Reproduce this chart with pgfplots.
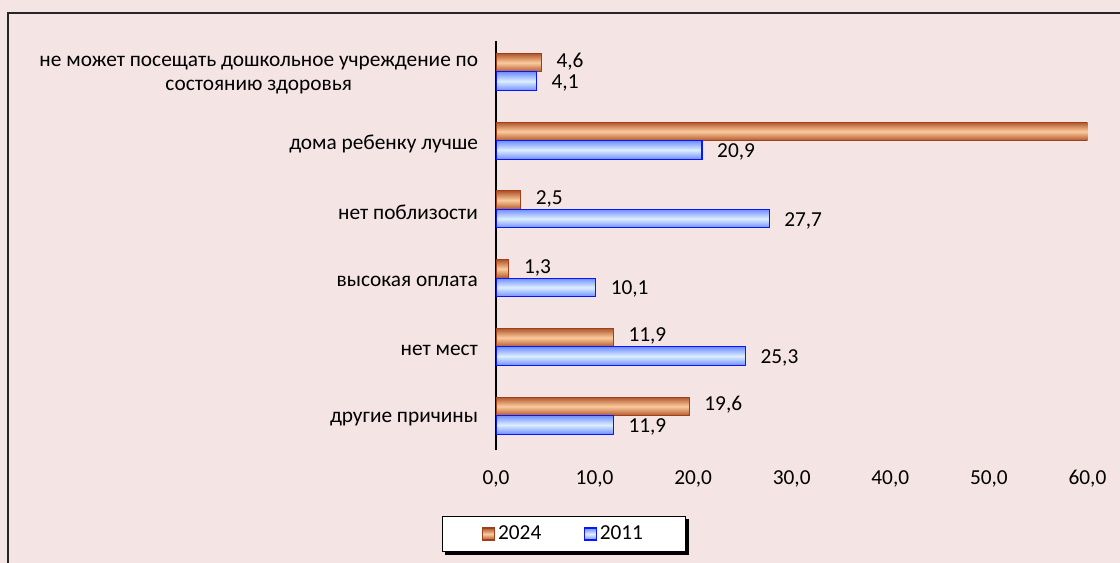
\documentclass[border=0pt]{standalone}
\usepackage{fontspec}
\setmainfont{Carlito}
\usepackage{pgfplots}
\pgfplotsset{compat=1.18}
\usetikzlibrary{backgrounds}
\definecolor{bg}{HTML}{F5E4E4}
\definecolor{brdark}{HTML}{A0401A}
\definecolor{bredge}{HTML}{B0552C}
\definecolor{brmid}{HTML}{FBCB9C}
\definecolor{bldark}{HTML}{0A14FF}
\definecolor{bledge}{HTML}{6F8FFF}
\definecolor{blmid}{HTML}{DDEEFF}
\pgfplotsset{
  s2024/.style={bar shift=6.94pt, draw=brdark, line width=0.8pt,
    top color=bredge, bottom color=bredge, middle color=brmid,
    every node near coord/.append style={yshift=1pt}},
  s2011/.style={bar shift=-6.94pt, draw=bldark, line width=0.8pt,
    top color=bledge, bottom color=bledge, middle color=blmid,
    every node near coord/.append style={yshift=-1.5pt}},
}
\begin{document}
\begin{tikzpicture}
\useasboundingbox (0,0) rectangle (840pt,422.25pt);
\begin{axis}[
  at={(372pt,84.75pt)}, anchor=south west,
  scale only axis, width=443.6pt, height=306.75pt,
  xbar,
  font=\fontsize{16}{18}\selectfont,
  xmin=0, xmax=60,
  ymin=-0.45, ymax=5.5,
  y dir=reverse,
  xtick={0,10,...,60},
  xticklabels={{0,0},{10,0},{20,0},{30,0},{40,0},{50,0},{60,0}},
  ytick={0,1,2,3,4,5},
  yticklabels={{не может посещать дошкольное учреждение по\\состоянию здоровья},
    {дома ребенку лучше},{нет поблизости},{высокая оплата},{нет мест},{другие причины}},
  yticklabel style={align=center, xshift=-10pt, yshift=-2.5pt},
  xticklabel style={anchor=base, yshift=-25.5pt},
  major tick length=0pt,
  axis x line*=bottom, axis y line*=left,
  axis line style={-},
  x axis line style={draw=none},
  y axis line style={black, line width=1.2pt},
  bar width=13.9pt,
  point meta=explicit symbolic,
  nodes near coords,
  every node near coord/.append style={text=black, anchor=west, inner xsep=0pt, inner ysep=0pt, xshift=11pt, font=\fontsize{16}{18}\selectfont},
  legend image code/.code={\draw[#1, line width=0.8pt] (0pt,-4.5pt) rectangle (9pt,4.5pt);},
  legend style={name=leg, at={(axis description cs:0.115,-0.2054)}, anchor=center,
    legend columns=2, draw=black, line width=0.8pt, fill=white,
    inner xsep=30pt, inner ysep=5pt,
    font=\fontsize{16}{18}\selectfont,
    /tikz/every even column/.append style={column sep=30pt}},
]
\addplot[s2024] coordinates {(4.6,0) [4,6]};
\addplot[s2024, forget plot] coordinates {(60.1,1) [{}]};
\addplot[s2024, forget plot] coordinates {(2.5,2) [2,5]};
\addplot[s2024, forget plot] coordinates {(1.3,3) [1,3]};
\addplot[s2024, forget plot] coordinates {(11.9,4) [11,9]};
\addplot[s2024, forget plot] coordinates {(19.6,5) [19,6]};
\addplot[s2011] coordinates {(4.1,0) [4,1]};
\addplot[s2011, forget plot] coordinates {(20.9,1) [20,9]};
\addplot[s2011, forget plot] coordinates {(27.7,2) [27,7]};
\addplot[s2011, forget plot] coordinates {(10.1,3) [10,1]};
\addplot[s2011, forget plot] coordinates {(25.3,4) [25,3]};
\addplot[s2011, forget plot] coordinates {(11.9,5) [11,9]};
\legend{2024,2011}
\end{axis}
\begin{scope}[on background layer]
\fill[bg] (0,0) rectangle (840pt,422.25pt);
\draw[black!85, line width=1.1pt] (6pt,-5pt) rectangle (850pt,412.5pt);
\fill[black] ([xshift=2.2pt,yshift=-2.2pt]leg.south west) rectangle ([xshift=2.2pt,yshift=-2.2pt]leg.north east);
\end{scope}
\end{tikzpicture}
\end{document}
